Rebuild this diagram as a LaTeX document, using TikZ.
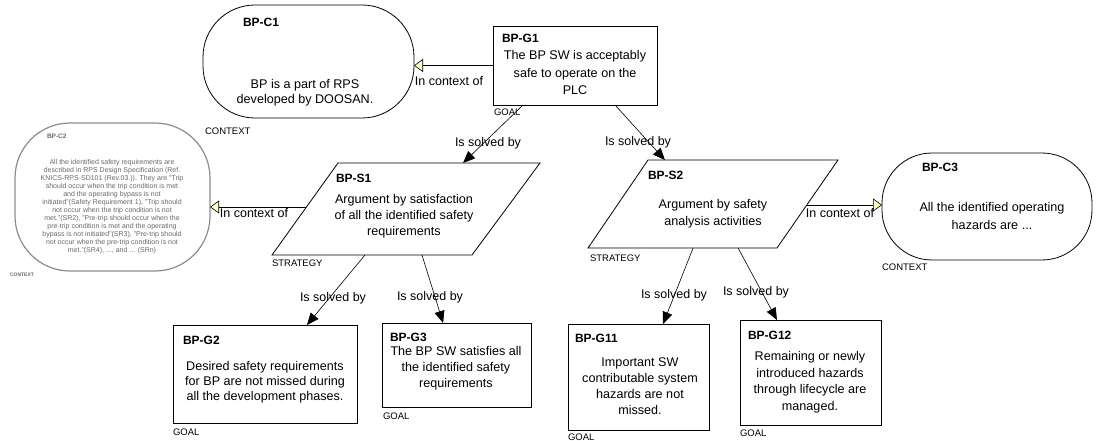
\documentclass[tikz,border=0pt]{standalone}
\usepackage{fontspec}
\setmainfont{Liberation Sans}
\usetikzlibrary{arrows.meta,calc}
\definecolor{ctxfill}{RGB}{255,255,190}
\definecolor{faded}{RGB}{105,105,105}
\begin{document}
\begin{tikzpicture}[x=1pt,y=-1pt,
  every node/.style={inner sep=0pt, outer sep=0pt},
  goalbox/.style={draw, line width=0.8pt, rectangle, anchor=north west},
  ctxbox/.style={draw, line width=0.8pt, rectangle, rounded corners=#1, anchor=north west},
  stratline/.style={draw, line width=0.8pt},
  idlabel/.style={font=\bfseries\fontsize{12}{14}\selectfont, anchor=west},
  body/.style={font=\fontsize{12.6}{#1}\selectfont, align=center},
  body/.default=16,
  kind/.style={font=\fontsize{9.5}{11}\selectfont, anchor=west},
  rel/.style={font=\fontsize{12.5}{14}\selectfont},
  solved/.style={draw, line width=0.6pt, -{Triangle[length=12pt,width=10pt]}},
  incontext/.style={draw, line width=0.6pt, -{Triangle[length=9pt,width=13pt,fill=ctxfill]}},
]
\fill[white] (0,0) rectangle (1098,441);
\useasboundingbox (0,0) rectangle (1098,441);

% top goal
\node[goalbox, minimum width=164pt, minimum height=79pt] (g1) at (493,26) {};
\node[idlabel] (g1id) at (502,38) {BP-G1};
\node[body=17.5] (g1txt) at (575,72.5) {The BP SW is acceptably\\safe to operate on the\\PLC};
\node[kind] (g1kind) at (494,112) {GOAL};

% contexts
\node[ctxbox=52pt, minimum width=211pt, minimum height=113pt] (c1) at (203,5) {};
\node[idlabel] (c1id) at (243,22) {BP-C1};
\node[body=15] (c1txt) at (305,92.5) {BP is a part of RPS\\developed by DOOSAN.};
\node[kind] (c1kind) at (205,131) {CONTEXT};

\node[ctxbox=55pt, draw=black!45, line width=1.2pt, minimum width=195pt, minimum height=148pt] (c2) at (15,123) {};
\node[anchor=west, text=faded, font=\bfseries\fontsize{6.5}{8}\selectfont] (c2id) at (47,136) {BP-C2};
\node[align=center, text=faded, font=\fontsize{7}{8}\selectfont] (c2txt) at (112,207) {All the identified safety requirements are\\described in RPS Design Specification (Ref.\\KNICS-RPS-SD101 (Rev.03.)). They are "Trip\\should occur when the trip condition is met\\and the operating bypass is not\\initiated"(Safety Requirement 1), "Trip should\\not occur when the trip condition is not\\met."(SR2), "Pre-trip should occur when the\\pre-trip condition is met and the operating\\bypass is not initiated"(SR3), "Pre-trip should\\not occur when the pre-trip condition is not\\met."(SR4), ..., and ... (SRn)};
\node[anchor=west, text=faded, font=\bfseries\fontsize{5}{6}\selectfont] (c2kind) at (10,275) {CONTEXT};

\node[ctxbox=50pt, minimum width=210pt, minimum height=107pt] (c3) at (882,153) {};
\node[idlabel] (c3id) at (922,167) {BP-C3};
\node[body=17.5] (c3txt) at (992,216) {All the identified operating\\hazards are ...};
\node[kind] (c3kind) at (882,267) {CONTEXT};

% strategies (parallelograms)
\coordinate (s1tl) at (338,163);
\coordinate (s1tr) at (540,163);
\coordinate (s1br) at (472,255);
\coordinate (s1bl) at (272,255);
\draw[stratline] (s1tl) -- (s1tr) -- (s1br) -- (s1bl) -- cycle;
\node[idlabel] (s1id) at (336,178) {BP-S1};
\node[body=16] (s1txt) at (404,216) {Argument by satisfaction\\of all the identified safety\\requirements};
\node[kind] (s1kind) at (272,263) {STRATEGY};

\coordinate (s2tl) at (648,160);
\coordinate (s2tr) at (838,160);
\coordinate (s2br) at (777,248);
\coordinate (s2bl) at (588,248);
\draw[stratline] (s2tl) -- (s2tr) -- (s2br) -- (s2bl) -- cycle;
\node[idlabel] (s2id) at (648,175) {BP-S2};
\node[body=17] (s2txt) at (713,213.5) {Argument by safety\\analysis activities};
\node[kind] (s2kind) at (590,258) {STRATEGY};

% sub-goals
\node[goalbox, minimum width=184pt, minimum height=98pt] (g2) at (173,325) {};
\node[idlabel] (g2id) at (183,340) {BP-G2};
\node[body=15] (g2txt) at (265,382) {Desired safety requirements\\for BP are not missed during\\all the development phases.};
\node[kind] (g2kind) at (173,432) {GOAL};

\node[goalbox, minimum width=149pt, minimum height=84pt] (g3) at (382,323) {};
\node[idlabel] (g3id) at (390,337) {BP-G3};
\node[body=16] (g3txt) at (456,368) {The BP SW satisfies all\\the identified safety\\requirements};
\node[kind] (g3kind) at (383,416) {GOAL};

\node[goalbox, minimum width=141pt, minimum height=106pt] (g11) at (568,324) {};
\node[idlabel] (g11id) at (575,338) {BP-G11};
\node[body=16] (g11txt) at (640,386) {Important SW\\contributable system\\hazards are not\\missed.};
\node[kind] (g11kind) at (568,437) {GOAL};

\node[goalbox, minimum width=141pt, minimum height=105pt] (g12) at (740,320) {};
\node[idlabel] (g12id) at (748,335) {BP-G12};
\node[body=16.5] (g12txt) at (810,382) {Remaining or newly\\introduced hazards\\through lifecycle are\\managed.};
\node[kind] (g12kind) at (740,433) {GOAL};

% "in context of" links
\draw[incontext] (g1.west) -- (g1.west -| c1.east);
\node[rel] (lc1) at (449,81) {In context of};

\coordinate (s1c) at ($(s1tl)!0.478!(s1bl)$);
\draw[incontext] (s1c) -- (s1c -| c2.east);
\node[rel] (lc2) at (254,213) {In context of};

\coordinate (s2c) at ($(s2tr)!0.511!(s2br)$);
\draw[incontext] (s2c) -- (s2c -| c3.west);
\node[rel] (lc3) at (840,213) {In context of};

% "is solved by" links
\draw[solved] ($(g1.south west)!0.183!(g1.south east)$) -- ($(s1tl)!0.619!(s1tr)$);
\node[rel] (ls1) at (488,143) {Is solved by};
\draw[solved] ($(g1.south west)!0.744!(g1.south east)$) -- ($(s2tl)!0.089!(s2tr)$);
\node[rel] (ls2) at (638,142) {Is solved by};

\draw[solved] ($(s1bl)!0.465!(s1br)$) -- ($(g2.north west)!0.728!(g2.north east)$);
\node[rel] (ls3) at (333,298) {Is solved by};
\draw[solved] ($(s1bl)!0.75!(s1br)$) -- ($(g3.north west)!0.41!(g3.north east)$);
\node[rel] (ls4) at (430,297) {Is solved by};

\draw[solved] ($(s2bl)!0.556!(s2br)$) -- ($(g11.north west)!0.674!(g11.north east)$);
\node[rel] (ls5) at (674,295) {Is solved by};
\draw[solved] ($(s2bl)!0.794!(s2br)$) -- ($(g12.north west)!0.262!(g12.north east)$);
\node[rel] (ls6) at (756,292) {Is solved by};
\end{tikzpicture}
\end{document}
